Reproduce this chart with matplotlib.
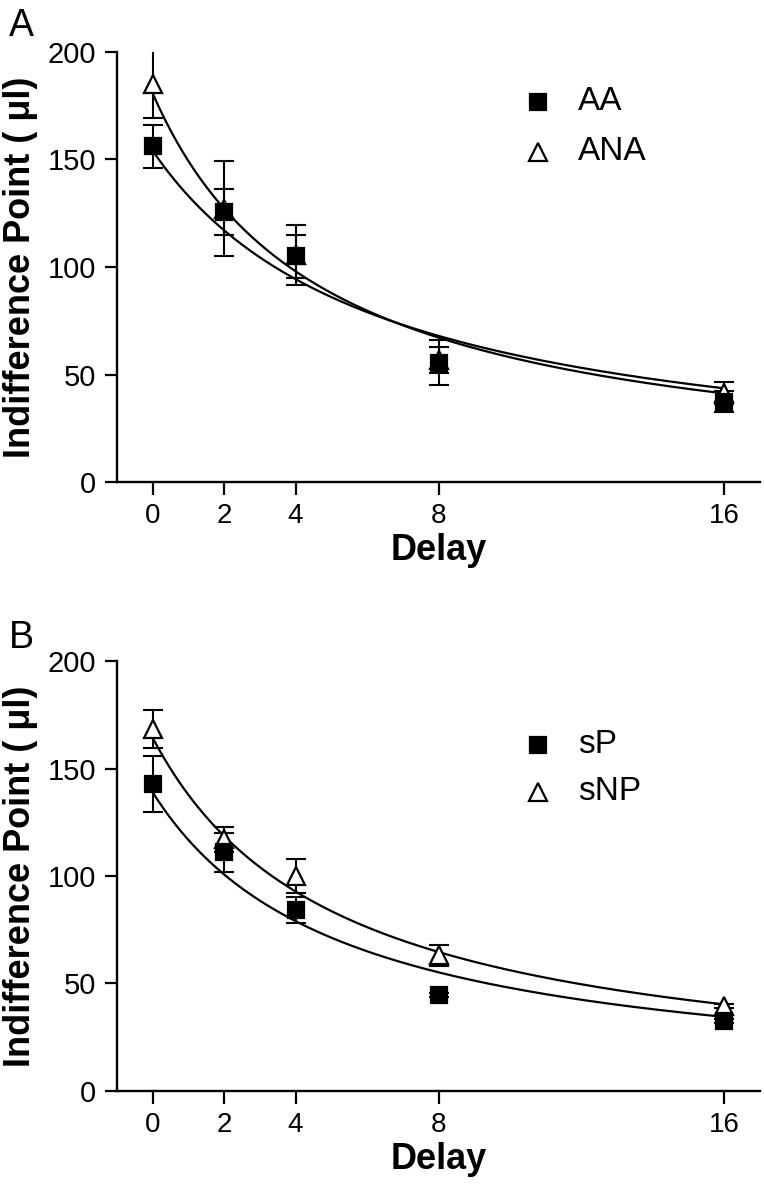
import numpy as np
import matplotlib
matplotlib.use("Agg")
import matplotlib.pyplot as plt

plt.rcParams['font.family'] = ['Liberation Sans', 'DejaVu Sans']

# === DATA ===
delays = [0, 2, 4, 8, 16]

# panel A
aa_mean = [156, 125.5, 105, 55.5, 37.5]
aa_sem = [10, 10.5, 10, 10.5, 5]
ana_mean = [185, 127, 105.5, 57, 41.5]
ana_sem = [16, 22, 14, 6, 5]

# panel B
sp_mean = [143, 111, 84, 44.5, 32.5]
sp_sem = [13, 9, 6, 1, 1]
snp_mean = [168.5, 117, 100, 63, 39.5]
snp_sem = [9, 6, 8, 5, 1]

# hyperbolic fits V = A / (1 + k*D), parameters
fit_A = {'AA': 154, 'ANA': 180.7, 'sP': 139, 'sNP': 164.4}
fit_k = {'AA': 0.158, 'ANA': 0.211, 'sP': 0.19, 'sNP': 0.193}

panels = [
    ('A', [('AA', aa_mean, aa_sem), ('ANA', ana_mean, ana_sem)]),
    ('B', [('sP', sp_mean, sp_sem), ('sNP', snp_mean, snp_sem)]),
]

fig = plt.figure(figsize=(7.64, 12), dpi=100)
axes_pos = [[0.153, 0.598, 0.842, 0.359], [0.153, 0.091, 0.842, 0.358]]
legend_y = [(0.884, 0.767), (0.805, 0.696)]
letter_y = [0.993, 0.483]

for (letter, series), pos, ly, lty in zip(panels, axes_pos, legend_y, letter_y):
    ax = fig.add_axes(pos)
    xs = np.linspace(0, 16, 300)
    # triangles first, squares on top
    for (name, mean, sem), yy in zip(reversed(series), reversed(ly)):
        hollow = name in ('ANA', 'sNP')
        ax.plot(xs, fit_A[name] / (1 + fit_k[name] * xs), color='black', lw=1.6, zorder=2)
        ax.errorbar(delays, mean, yerr=sem, fmt='none', ecolor='black',
                    elinewidth=1.5, capsize=7, capthick=1.5, zorder=3)
        style = dict(linestyle='none', marker='^' if hollow else 's',
                     markersize=13 if hollow else 12,
                     markerfacecolor='white' if hollow else 'black',
                     markeredgecolor='black', markeredgewidth=1.6)
        ax.plot(delays, mean, zorder=4 if hollow else 5, **style)
        # legend entry
        ax.plot([0.655], [yy], transform=ax.transAxes, clip_on=False, **style)
        ax.text(0.717, yy, name, transform=ax.transAxes, fontsize=24,
                ha='left', va='center')

    ax.set_xlim(-1, 17)
    ax.set_ylim(0, 200)
    ax.set_xticks(delays)
    ax.set_yticks([0, 50, 100, 150, 200])
    ax.spines['top'].set_visible(False)
    ax.spines['right'].set_visible(False)
    for s in ('left', 'bottom'):
        ax.spines[s].set_linewidth(1.7)
    ax.tick_params(axis='both', length=9, width=1.6, pad=6)
    ax.tick_params(axis='y', labelsize=21)
    ax.tick_params(axis='x', labelsize=20)
    ax.set_xlabel('Delay', fontsize=26, fontweight='bold', labelpad=3)
    ax.set_ylabel('Indifference Point ( μl)', fontsize=26, fontweight='bold', labelpad=7)
    fig.text(0.012, lty, letter, fontsize=27, ha='left', va='top')

fig.savefig('out.png', dpi=100)
